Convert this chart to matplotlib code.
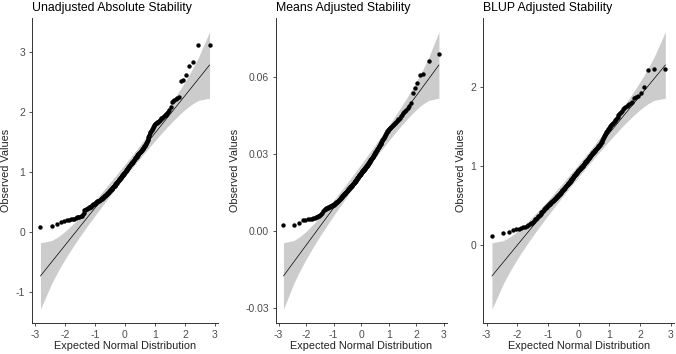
import numpy as np
import matplotlib
matplotlib.use('Agg')
import matplotlib.pyplot as plt
from statistics import NormalDist

plt.rcParams['font.family'] = ['Liberation Sans', 'DejaVu Sans']

unadjusted = [
    0.08, 0.095, 0.13, 0.16, 0.18, 0.19, 0.20, 0.21, 0.215, 0.22,
    0.23, 0.24, 0.245, 0.25, 0.26, 0.27, 0.29, 0.32, 0.36, 0.37,
    0.38, 0.385, 0.39, 0.40, 0.41, 0.415, 0.42, 0.43, 0.44, 0.45,
    0.455, 0.46, 0.47, 0.48, 0.485, 0.49, 0.50, 0.505, 0.51, 0.515,
    0.52, 0.53, 0.535, 0.54, 0.545, 0.55, 0.56, 0.565, 0.57, 0.58,
    0.585, 0.59, 0.60, 0.605, 0.61, 0.62, 0.625, 0.63, 0.64, 0.645,
    0.65, 0.66, 0.67, 0.675, 0.68, 0.69, 0.70, 0.71, 0.715, 0.72,
    0.73, 0.74, 0.745, 0.75, 0.76, 0.765, 0.77, 0.78, 0.79, 0.80,
    0.805, 0.81, 0.82, 0.83, 0.84, 0.845, 0.85, 0.86, 0.87, 0.88,
    0.885, 0.89, 0.90, 0.91, 0.92, 0.925, 0.93, 0.94, 0.95, 0.955,
    0.96, 0.97, 0.975, 0.98, 0.99, 1.005, 1.01, 1.02, 1.03, 1.035,
    1.045, 1.05, 1.06, 1.07, 1.075, 1.085, 1.09, 1.10, 1.11, 1.115,
    1.125, 1.13, 1.14, 1.15, 1.155, 1.165, 1.17, 1.18, 1.19, 1.20,
    1.205, 1.215, 1.225, 1.23, 1.24, 1.25, 1.255, 1.265, 1.275, 1.28,
    1.29, 1.30, 1.31, 1.315, 1.325, 1.33, 1.34, 1.35, 1.355, 1.365,
    1.375, 1.38, 1.39, 1.40, 1.41, 1.425, 1.435, 1.445, 1.46, 1.475,
    1.495, 1.515, 1.535, 1.555, 1.58, 1.60, 1.62, 1.64, 1.66, 1.68,
    1.70, 1.72, 1.735, 1.75, 1.76, 1.775, 1.79, 1.80, 1.81, 1.815,
    1.825, 1.835, 1.84, 1.85, 1.865, 1.875, 1.89, 1.90, 1.915, 1.93,
    1.94, 1.955, 1.97, 1.985, 2.00, 2.03, 2.09, 2.17, 2.18, 2.20,
    2.22, 2.23, 2.25, 2.51, 2.53, 2.61, 2.76, 2.84, 3.11, 3.12,
]

means_adj = [
    0.0021, 0.0021, 0.0030, 0.0040, 0.0042, 0.0044, 0.0045, 0.0047, 0.0048, 0.0050,
    0.0052, 0.0054, 0.0056, 0.0058, 0.0061, 0.0064, 0.0068, 0.0075, 0.0082, 0.0085,
    0.0086, 0.0087, 0.0088, 0.0090, 0.0091, 0.0092, 0.0094, 0.0095, 0.0096, 0.0097,
    0.0099, 0.0100, 0.0101, 0.0102, 0.0104, 0.0105, 0.0107, 0.0108, 0.0110, 0.0112,
    0.0113, 0.0115, 0.0117, 0.0118, 0.0120, 0.0122, 0.0124, 0.0126, 0.0128, 0.0130,
    0.0132, 0.0134, 0.0136, 0.0138, 0.0140, 0.0142, 0.0143, 0.0145, 0.0146, 0.0148,
    0.0149, 0.0151, 0.0153, 0.0154, 0.0156, 0.0158, 0.0160, 0.0162, 0.0164, 0.0166,
    0.0167, 0.0169, 0.0170, 0.0172, 0.0173, 0.0175, 0.0176, 0.0178, 0.0179, 0.0181,
    0.0182, 0.0184, 0.0185, 0.0187, 0.0188, 0.0190, 0.0191, 0.0193, 0.0195, 0.0197,
    0.0199, 0.0201, 0.0203, 0.0205, 0.0207, 0.0209, 0.0210, 0.0212, 0.0214, 0.0216,
    0.0218, 0.0219, 0.0221, 0.0223, 0.0224, 0.0226, 0.0228, 0.0229, 0.0231, 0.0232,
    0.0234, 0.0235, 0.0237, 0.0238, 0.0240, 0.0242, 0.0243, 0.0245, 0.0247, 0.0249,
    0.0250, 0.0252, 0.0254, 0.0256, 0.0258, 0.0260, 0.0262, 0.0264, 0.0266, 0.0268,
    0.0270, 0.0272, 0.0274, 0.0276, 0.0278, 0.0280, 0.0282, 0.0284, 0.0287, 0.0289,
    0.0291, 0.0294, 0.0296, 0.0299, 0.0301, 0.0304, 0.0306, 0.0309, 0.0311, 0.0314,
    0.0316, 0.0319, 0.0321, 0.0324, 0.0326, 0.0329, 0.0331, 0.0334, 0.0337, 0.0340,
    0.0343, 0.0346, 0.0349, 0.0353, 0.0356, 0.0359, 0.0362, 0.0366, 0.0370, 0.0373,
    0.0377, 0.0381, 0.0385, 0.0388, 0.0391, 0.0393, 0.0395, 0.0397, 0.0399, 0.0401,
    0.0403, 0.0406, 0.0408, 0.0411, 0.0414, 0.0416, 0.0419, 0.0422, 0.0425, 0.0428,
    0.0431, 0.0434, 0.0437, 0.0441, 0.0446, 0.0452, 0.0458, 0.0463, 0.0467, 0.0470,
    0.0477, 0.0488, 0.0500, 0.0536, 0.0557, 0.0575, 0.0609, 0.0612, 0.0661, 0.0688,
]

blup_adj = [
    0.11, 0.15, 0.165, 0.18, 0.195, 0.20, 0.21, 0.22, 0.23, 0.24,
    0.25, 0.26, 0.27, 0.28, 0.29, 0.30, 0.32, 0.33, 0.34, 0.36,
    0.37, 0.38, 0.39, 0.41, 0.42, 0.43, 0.44, 0.45, 0.46, 0.47,
    0.48, 0.485, 0.49, 0.50, 0.51, 0.515, 0.52, 0.53, 0.535, 0.54,
    0.55, 0.555, 0.56, 0.57, 0.575, 0.58, 0.585, 0.59, 0.60, 0.605,
    0.61, 0.615, 0.62, 0.63, 0.635, 0.64, 0.65, 0.655, 0.66, 0.67,
    0.675, 0.68, 0.69, 0.695, 0.70, 0.705, 0.71, 0.72, 0.725, 0.73,
    0.74, 0.745, 0.75, 0.755, 0.76, 0.77, 0.775, 0.78, 0.785, 0.79,
    0.80, 0.805, 0.81, 0.815, 0.82, 0.83, 0.835, 0.84, 0.85, 0.855,
    0.86, 0.87, 0.875, 0.88, 0.885, 0.89, 0.90, 0.905, 0.91, 0.915,
    0.92, 0.93, 0.935, 0.94, 0.945, 0.95, 0.955, 0.96, 0.965, 0.97,
    0.975, 0.98, 0.985, 0.99, 0.995, 1.00, 1.005, 1.01, 1.02, 1.025,
    1.03, 1.04, 1.045, 1.05, 1.055, 1.06, 1.07, 1.075, 1.08, 1.09,
    1.095, 1.10, 1.105, 1.11, 1.12, 1.125, 1.13, 1.14, 1.145, 1.15,
    1.155, 1.16, 1.17, 1.175, 1.18, 1.19, 1.195, 1.20, 1.21, 1.215,
    1.22, 1.225, 1.23, 1.24, 1.245, 1.25, 1.26, 1.265, 1.27, 1.28,
    1.29, 1.30, 1.31, 1.33, 1.34, 1.36, 1.37, 1.38, 1.395, 1.41,
    1.42, 1.43, 1.44, 1.45, 1.465, 1.475, 1.49, 1.50, 1.51, 1.52,
    1.53, 1.54, 1.55, 1.56, 1.575, 1.585, 1.60, 1.61, 1.62, 1.645,
    1.66, 1.675, 1.69, 1.705, 1.72, 1.735, 1.75, 1.765, 1.78, 1.79,
    1.80, 1.82, 1.86, 1.88, 1.89, 1.93, 2.01, 2.22, 2.23, 2.24,
]

titles = ['Unadjusted Absolute Stability', 'Means Adjusted Stability', 'BLUP Adjusted Stability']
yticks = [[-1, 0, 1, 2, 3], [-0.03, 0.00, 0.03, 0.06], [0, 1, 2]]
yfmt = ['{:g}', '{:.2f}', '{:g}']
xticks = [-3, -2, -1, 0, 1, 2, 3]

# panel boxes in pixels: left, right (top 18, bottom 323)
boxes = [(32, 218), (275.7, 446.7), (483.3, 674)]

W, H = 676, 354
fig = plt.figure(figsize=(W / 100, H / 100), dpi=100)
nd = NormalDist()

for k, data in enumerate([unadjusted, means_adj, blup_adj]):
    y = np.sort(np.array(data))
    n = len(y)
    p = (np.arange(1, n + 1) - 0.5) / n
    z = np.array([nd.inv_cdf(v) for v in p])

    # reference line through the quartiles, pointwise 95% band
    q1, q3 = np.quantile(y, [0.25, 0.75])
    slope = (q3 - q1) / (nd.inv_cdf(0.75) - nd.inv_cdf(0.25))
    icpt = q1 - slope * nd.inv_cdf(0.25)
    fit = icpt + slope * z
    dens = np.array([nd.pdf(v) for v in z])
    se = slope / dens * np.sqrt(p * (1 - p) / n)
    lo = fit - 1.959964 * se
    hi = fit + 1.959964 * se

    l, r = boxes[k]
    ax = fig.add_axes([l / W, (H - 323) / H, (r - l) / W, 305 / H])
    ax.fill_between(z, lo, hi, color='#cccccc', lw=0)
    ax.plot(z, fit, color='black', lw=0.5)
    ax.scatter(z, y, s=10, color='black', lw=0, zorder=3)

    xr = z.max() - z.min()
    ax.set_xlim(z.min() - 0.05 * xr, z.max() + 0.05 * xr)
    ymin = min(lo.min(), y.min())
    ymax = max(hi.max(), y.max())
    yr = ymax - ymin
    ax.set_ylim(ymin - 0.05 * yr, ymax + 0.05 * yr)

    ax.set_xticks(xticks)
    ax.set_xticklabels([f'{t:g}' for t in xticks])
    ax.set_yticks(yticks[k])
    ax.set_yticklabels([yfmt[k].format(t) for t in yticks[k]])
    ax.tick_params(length=2.5, width=0.6, color='#333333', labelsize=7.5,
                   labelcolor='#4d4d4d', pad=2.5)
    for s in ['top', 'right']:
        ax.spines[s].set_visible(False)
    for s in ['left', 'bottom']:
        ax.spines[s].set_color('#333333')
        ax.spines[s].set_linewidth(0.7)

    ax.set_xlabel('Expected Normal Distribution', fontsize=7.8, color='#222222', labelpad=1)
    ax.set_ylabel('Observed Values', fontsize=7.8, color='#222222', labelpad=3.5)
    fig.text(l / W, (H - 10.5) / H, titles[k], fontsize=8.8, color='black',
             ha='left', va='baseline')

fig.savefig('out.png', dpi=100)
